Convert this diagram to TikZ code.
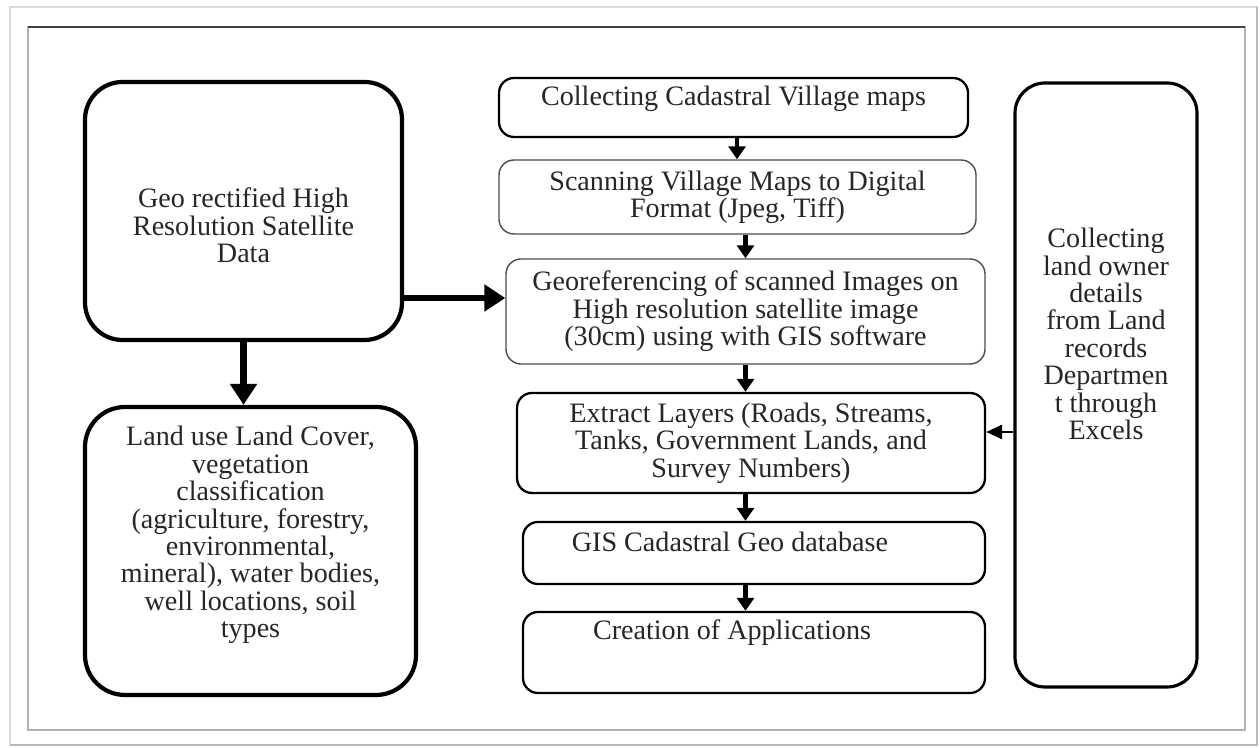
\documentclass[tikz,border=0pt]{standalone}
\usepackage{fontspec}
\setmainfont{Liberation Serif}
\usetikzlibrary{arrows.meta}

\begin{document}
\begin{tikzpicture}[
    every node/.style={font=\fontsize{16pt}{15.6pt}\selectfont, text=black!85, align=center},
    bigbox/.style={draw, line width=2.4pt, rounded corners=0.75cm, inner sep=0pt},
    sidebox/.style={draw, line width=1.8pt, rounded corners=0.6cm, inner sep=0pt},
    stagebox/.style={draw, line width=1.3pt, rounded corners=0.3cm, inner sep=0pt},
    lightbox/.style={draw=black!70, line width=0.8pt, rounded corners=0.3cm, inner sep=0pt},
    flow/.style={line width=2.5pt, -{Triangle[length=0.26cm, width=0.34cm]}},
    bigflow/.style={line width=3.5pt, -{Triangle[length=0.42cm, width=0.52cm]}},
    thinflow/.style={line width=1.6pt, -{Triangle[length=0.32cm, width=0.28cm]}}
]
    \useasboundingbox (0,0) rectangle (25.2,14.96);

    % page frame
    \draw[gray!30, line width=0.6pt] (0.2,0.06) rectangle (25.14,14.82);
    \draw[gray!55, line width=1.4pt] (0.2,0.06) -- (25.14,0.06) -- (25.14,14.82);
    \draw[gray!60, line width=0.7pt] (0.56,0.36) rectangle (24.9,14.42);
    \draw[black!75, line width=0.9pt] (0.56,14.42) -- (24.9,14.42);

    % Satellite data
    \node[bigbox, minimum width=6.34cm, minimum height=5.16cm] (geo) at (4.87,10.74) {};
    \node (geotxt) at ([yshift=-0.29cm]geo.center) {Geo rectified High\\Resolution Satellite\\Data};

    % Land use
    \node[bigbox, minimum width=6.62cm, minimum height=5.76cm, rounded corners=0.8cm] (landuse) at (5.01,3.94) {};
    \node (landusetxt) at ([yshift=0.32cm]landuse.center) {Land use Land Cover,\\vegetation\\classification\\(agriculture, forestry,\\environmental,\\mineral), water bodies,\\well locations, soil\\types};

    % Main flow
    \node[stagebox, minimum width=9.38cm, minimum height=1.18cm] (collect) at (14.67,12.81) {};
    \node (collecttxt) at ([yshift=0.17cm]collect.center) {Collecting Cadastral Village maps};

    \node[lightbox, minimum width=9.54cm, minimum height=1.48cm] (scan) at (14.75,11.02) {Scanning Village Maps to Digital\\Format (Jpeg, Tiff)};

    \node[lightbox, minimum width=9.58cm, minimum height=2.1cm] (georef) at (14.91,8.73) {Georeferencing of scanned Images on\\High resolution satellite image\\(30cm) using with GIS software};

    \node[stagebox, minimum width=9.36cm, minimum height=2cm] (extract) at (15.02,6.1) {Extract Layers (Roads, Streams,\\Tanks, Government Lands, and\\Survey Numbers)};

    \node[stagebox, minimum width=9.24cm, minimum height=1.24cm] (gisdb) at (15.08,3.9) {};
    \node (gisdbtxt) at ([xshift=-0.48cm, yshift=0.22cm]gisdb.center) {GIS Cadastral Geo database};

    \node[stagebox, minimum width=9.24cm, minimum height=1.62cm] (apps) at (15.08,1.91) {};
    \node (appstxt) at ([xshift=-0.44cm, yshift=0.39cm]apps.center) {Creation of Applications};

    % Land records
    \node[sidebox, minimum width=3.64cm, minimum height=12.08cm] (owner) at (22.12,7.26) {};
    \node (ownertxt) at ([yshift=1.02cm]owner.center) {Collecting\\land owner\\details\\from Land\\records\\Departmen\\t through\\Excels};

    % Connections
    \draw[flow] ([xshift=0.07cm]collect.south) -- ([xshift=0.07cm]collect.south |- scan.north);
    \draw[flow] (georef.north |- scan.south) -- (georef.north);
    \draw[flow] (georef.south) -- (georef.south |- extract.north);
    \draw[flow] (extract.south -| georef.south) -- (gisdb.north -| georef.south);
    \draw[flow] (gisdb.south -| georef.south) -- (apps.north -| georef.south);
    \draw[bigflow] (geo.south) -- (geo.south |- landuse.north);
    \draw[bigflow] ([yshift=0.27cm]georef.west -| geo.east) -- ([yshift=0.27cm]georef.west);
    \draw[thinflow] ([yshift=0.22cm]extract.east -| owner.west) -- ([yshift=0.22cm]extract.east);
\end{tikzpicture}
\end{document}
